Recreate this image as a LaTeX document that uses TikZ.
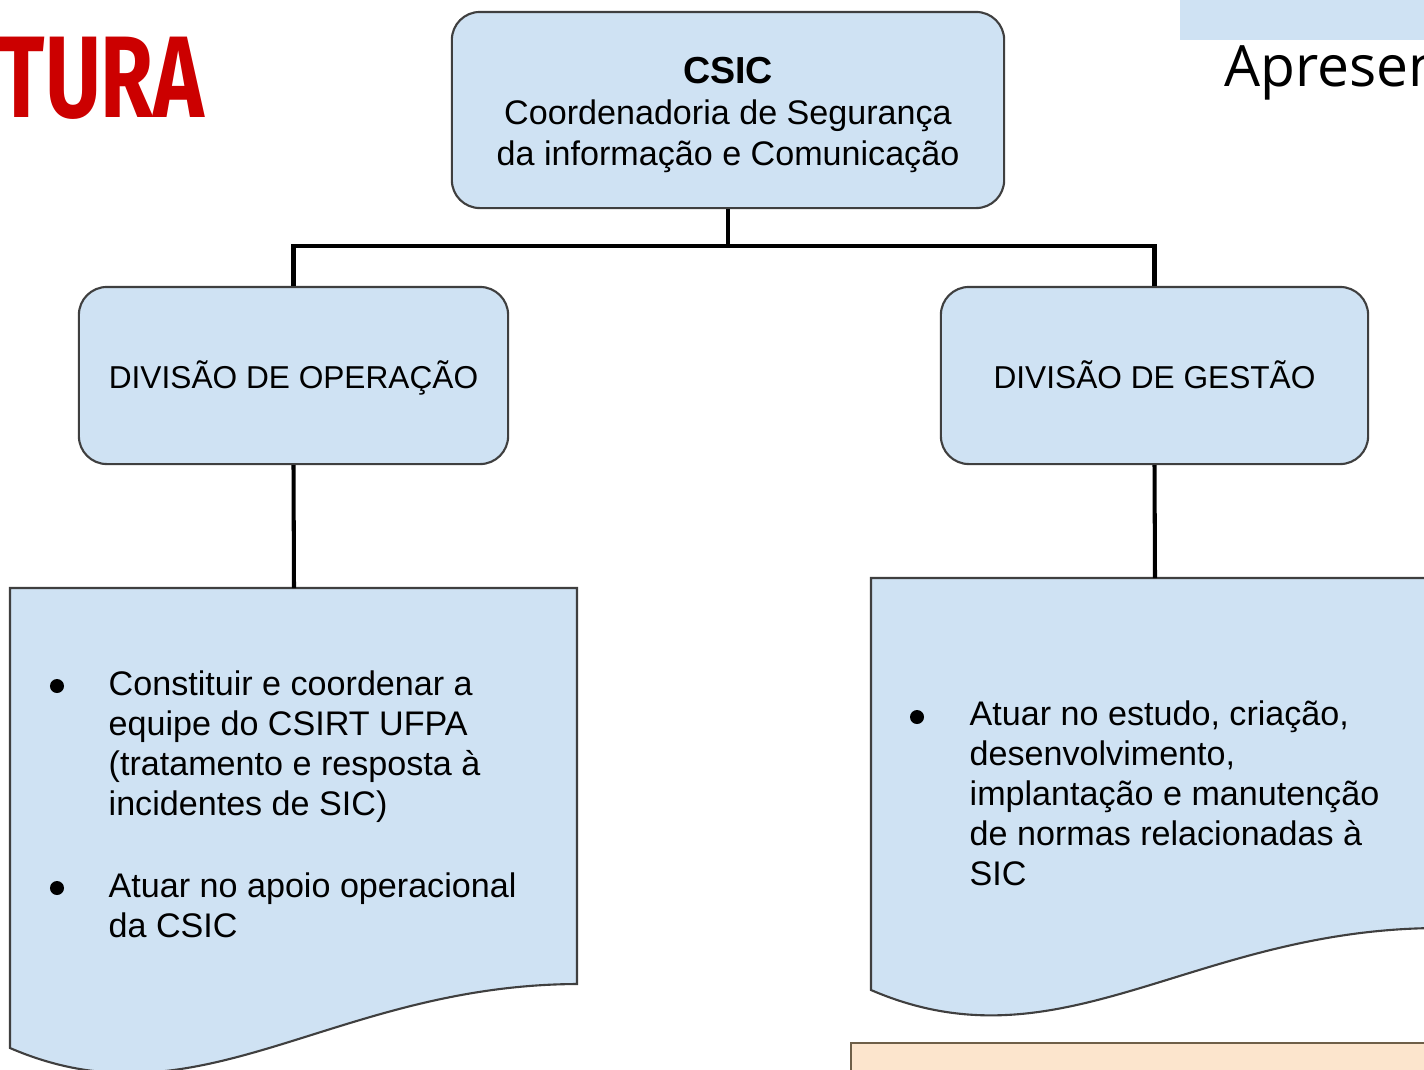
\documentclass[tikz,border=0pt]{standalone}
\usepackage{fontspec}
\setmainfont{Liberation Sans}
\newfontfamily\titlefont[FakeStretch=0.74]{Fira Sans}
\newfontfamily\slidefont{Open Sans}
\usepackage{xcolor}
\definecolor{boxblue}{HTML}{CFE2F3}
\definecolor{boxline}{HTML}{3F3F3F}
\definecolor{boxorange}{HTML}{FCE5CD}
\definecolor{orangeline}{HTML}{6E5F48}
\definecolor{titlered}{HTML}{CC0000}

\begin{document}
\begin{tikzpicture}[x=0.01cm, y=-0.01cm,
    unit/.style={draw=boxline, fill=boxblue, line width=0.6pt, rounded corners=0.28cm, align=center, inner sep=0pt},
    doc/.style={draw=boxline, fill=boxblue, line width=0.6pt},
    link/.style={line width=1.15pt, black},
    dot/.style={circle, fill=black, inner sep=0pt, minimum size=0.14cm},
    item/.style={anchor=base west, inner sep=0pt, font=\fontsize{9.7}{11.38}\selectfont}]

    \useasboundingbox (0,0) rectangle (1424,1069);
    \clip (0,0) rectangle (1424,1069);

    \fill[boxblue] (1180,0) rectangle (1430,40);
    \node[anchor=base west, inner sep=0pt, font=\slidefont\fontsize{16.2}{19}\selectfont] (slide) at (1224,86) {Apresen};
    \node[anchor=base west, inner sep=0pt, text=titlered, font=\titlefont\bfseries\fontsize{33}{36}\selectfont] (title) at (-2,117) {TURA};

    \node[unit, minimum width=5.52cm, minimum height=1.96cm, font=\fontsize{9.7}{11.6}\selectfont] (csic) at (728,110)
        {\rule{0pt}{10.4pt}{\bfseries\fontsize{10.7}{12}\selectfont CSIC}\\Coordenadoria de Segurança\\da informação e Comunicação};
    \node[unit, minimum width=4.29cm, minimum height=1.77cm, text height=7.5pt, text depth=0pt, font=\fontsize{9}{10.8}\selectfont] (opdiv) at (293.5,375.5) {DIVISÃO DE OPERAÇÃO};
    \node[unit, minimum width=4.27cm, minimum height=1.77cm, text height=7.5pt, text depth=0pt, font=\fontsize{9}{10.8}\selectfont] (gestdiv) at (1154.5,375.5) {DIVISÃO DE GESTÃO};

    \draw[doc] (10,588) -- (577,588) -- (577,984) .. controls (330,985) and (200,1130) .. (10,1048) -- cycle;
    \coordinate (optop) at (294,588);
    \draw[doc] (871,578) -- (1438,578) -- (1438,928) .. controls (1191,929) and (1061,1072) .. (871,990) -- cycle;
    \coordinate (gesttop) at (1155,578);
    \draw[draw=orangeline, fill=boxorange, line width=0.6pt] (851,1043) rectangle (1440,1090);

    \coordinate (bus) at (728,246);
    \draw[link] (csic.south) -- (bus);
    \draw[link] (bus) -| (opdiv.north);
    \draw[link] (bus) -| (gestdiv.north);
    \draw[link] (opdiv.south) -- (optop);
    \draw[link] (gestdiv.south) -- (gesttop);

    \node[dot] (bulA) at (57,686) {};
    \node[item] (itemA) at (108,695) {\begin{tabular}[t]{@{}l@{}}Constituir e coordenar a\\equipe do CSIRT UFPA\\(tratamento e resposta à\\incidentes de SIC)\end{tabular}};
    \node[dot] (bulB) at (57,888) {};
    \node[item] (itemB) at (108,897) {\begin{tabular}[t]{@{}l@{}}Atuar no apoio operacional\\da CSIC\end{tabular}};
    \node[dot] (bulC) at (917,717) {};
    \node[item] (itemC) at (969,725) {\begin{tabular}[t]{@{}l@{}}Atuar no estudo, criação,\\desenvolvimento,\\implantação e manutenção\\de normas relacionadas à\\SIC\end{tabular}};

\end{tikzpicture}
\end{document}
